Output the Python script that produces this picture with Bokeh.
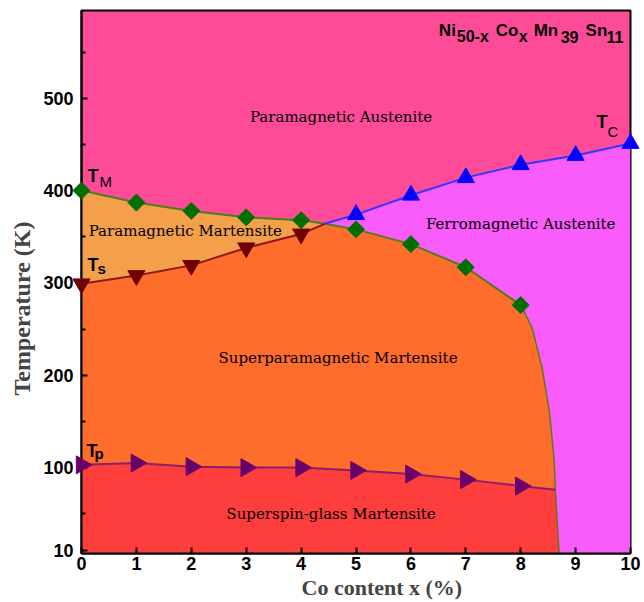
import numpy as np
from bokeh.plotting import figure
from bokeh.models import FixedTicker, Range1d, Title
from bokeh.embed import file_html
from bokeh.resources import INLINE
from bokeh.core.properties import value

# ---------------- data ----------------
co_M = [0, 1, 2, 3, 4, 5, 6, 7, 8]
T_M = [400, 387, 378, 371, 368, 358, 342, 317, 276]          # martensitic transition
co_C = [5, 6, 7, 8, 9, 10]
T_C = [374, 395, 414, 428, 438, 451]                          # Curie temperature
co_S = [0, 1, 2, 3, 4]
T_S = [299, 308, 319, 338, 353]                               # superparamagnetic transition
co_P = [0, 1, 2, 3, 4, 5, 6, 7, 8]
T_P = [103, 105, 101, 100, 100, 97, 93, 87, 80]               # spin-glass freezing
co_triple, T_triple = 4.43, 364                               # meeting point of T_M, T_S, T_C
co_B = [8.21, 8.39, 8.52, 8.61, 8.63, 8.70]                   # martensite / austenite boundary
T_B = [251, 208, 162, 108, 76, 7]
co_Pend, T_Pend = 8.63, 76

x_ticks = [0, 1, 2, 3, 4, 5, 6, 7, 8, 9, 10]
y_ticks = [10, 100, 200, 300, 400, 500]
y_minor = [50, 150, 250, 350, 450, 550]
X0, X1 = 0, 10
Y0, Y1 = 7, 595

PINK = "#FE4B98"
VIOLET = "#FA5CFC"
LORANGE = "#F4A04A"
ORANGE = "#FE6D2B"
RED = "#FE3D3D"

# frame geometry (page pixels) used only to place text annotations
FL, FR, FT, FB = 80, 630, 10, 553
def dx(px):
    return X0 + (px - FL) / (FR - FL) * (X1 - X0)
def dy(py):
    return Y0 + (FB - py) / (FB - FT) * (Y1 - Y0)

p = figure(width=640, height=602, x_range=Range1d(X0, X1), y_range=Range1d(Y0, Y1),
           output_backend="svg", toolbar_location=None,
           min_border_left=FL, min_border_right=640 - FR, min_border_top=FT, min_border_bottom=602 - FB,
           background_fill_color=PINK, border_fill_color="white")
p.grid.visible = False
p.outline_line_color = "black"
p.outline_line_width = 2

# ---------------- regions ----------------
vx = [co_triple] + co_C + [X1, co_triple]
vy = [T_triple] + T_C + [Y0, Y0]
p.patch(vx, vy, fill_color=VIOLET, line_color=None)

ox = co_S + [co_triple] + co_M[5:] + co_B + [X0]
oy = T_S + [T_triple] + T_M[5:] + T_B + [Y0]
p.patch(ox, oy, fill_color=ORANGE, line_color=None)

lx = co_M[:5] + [co_triple] + co_S[::-1]
ly = T_M[:5] + [T_triple] + T_S[::-1]
p.patch(lx, ly, fill_color=LORANGE, line_color=None)

rx = co_P + [co_Pend, co_B[-1], X0]
ry = T_P + [T_Pend, T_B[-1], Y0]
p.patch(rx, ry, fill_color=RED, line_color=None)

# ---------------- lines ----------------
p.line(co_M[:5] + [co_triple] + co_M[5:], T_M[:5] + [T_triple] + T_M[5:], line_color="#4A7F1C", line_width=2)
p.line([co_M[-1]] + co_B, [T_M[-1]] + T_B, line_color="#5A7A22", line_width=1.5)
p.line(co_S + [co_triple], T_S + [T_triple], line_color="#8E1818", line_width=2)
p.line([co_triple] + co_C, [T_triple] + T_C, line_color="#3535FF", line_width=2)
p.line(co_P + [co_Pend], T_P + [T_Pend], line_color="#8A1F6A", line_width=2)

# ---------------- markers (overlay level so edge markers are not cut) ----------------
p.scatter(co_M, T_M, marker="square", size=12, angle=np.pi / 4, fill_color="#006E00",
          line_color="#006E00", level="overlay")
p.scatter(co_C, T_C, marker="triangle", size=17, fill_color="#0000FF", line_color="#0000FF", level="overlay")
p.scatter(co_S, T_S, marker="inverted_triangle", size=17, fill_color="#6E0000", line_color="#6E0000",
          level="overlay")
p.scatter(co_P, T_P, marker="triangle", size=18, angle=-np.pi / 2, fill_color="#6A006A",
          line_color="#6A006A", level="overlay")

# ---------------- region labels ----------------
reg_text = ["Paramagnetic Austenite", "Paramagnetic Martensite", "Ferromagnetic Austenite",
            "Superparamagnetic Martensite", "Superspin-glass Martensite"]
reg_px = [340, 184, 520, 337, 330]
reg_py = [116, 230, 223, 357, 513]
p.text([dx(v) for v in reg_px], [dy(v) for v in reg_py], text=reg_text,
       text_font=value("DejaVu Serif"), text_font_size="15px", text_color="black",
       text_align="center", text_baseline="middle")

# ---------------- T labels ----------------
SHIFT = 7
big_t = ["T", "T", "T", "T"]
big_px = [86, 86, 85, 596]
big_py = [182, 271, 457, 128]
p.text([dx(v) for v in big_px], [dy(v - SHIFT) for v in big_py], text=big_t,
       text_font=value("Liberation Sans"), text_font_style="bold", text_font_size="18px",
       text_color="black", text_align="left", text_baseline="alphabetic")
sub_t = ["M", "s", "p", "C"]
sub_px = [98, 96, 93, 607]
sub_py = [188, 275, 460, 138]
sub_style = ["normal", "bold", "bold", "normal"]
p.text([dx(v) for v in sub_px], [dy(v - SHIFT) for v in sub_py], text=sub_t,
       text_font=value("Liberation Sans"), text_font_style=sub_style, text_font_size="15px",
       text_color="black", text_align="left", text_baseline="alphabetic")

# ---------------- composition title ----------------
f_main = ["Ni", "Co", "Mn", "Sn"]
f_main_px = [438, 495, 533, 585]
f_sub = ["50-x", "x", "39", "11"]
f_sub_px = [456, 518, 560, 606]
p.text([dx(v) for v in f_main_px], [dy(37 - SHIFT)] * 4, text=f_main,
       text_font=value("Liberation Sans"), text_font_style="bold", text_font_size="17px",
       text_color="black", text_align="left", text_baseline="alphabetic")
p.text([dx(v) for v in f_sub_px], [dy(43 - SHIFT)] * 4, text=f_sub,
       text_font=value("Liberation Sans"), text_font_style="bold", text_font_size="16px",
       text_color="black", text_align="left", text_baseline="alphabetic")

# ---------------- axes ----------------
for ax in (p.xaxis[0], p.yaxis[0]):
    ax.axis_line_color = "black"
    ax.axis_line_width = 2
    ax.major_tick_in = 6
    ax.major_tick_out = 0
    ax.minor_tick_in = 4
    ax.minor_tick_out = 0
    ax.major_tick_line_width = 2
    ax.minor_tick_line_width = 2
    ax.major_tick_line_color = "black"
    ax.minor_tick_line_color = "black"
    ax.major_label_text_font = "Liberation Sans"
    ax.major_label_text_font_style = "bold"
    ax.major_label_text_font_size = "18px"
    ax.major_label_text_color = "black"

p.xaxis.ticker = FixedTicker(ticks=x_ticks, minor_ticks=[])
p.yaxis.ticker = FixedTicker(ticks=y_ticks, minor_ticks=y_minor)
p.xaxis.major_label_standoff = 3
p.yaxis.major_label_standoff = 8

xt = Title(text="Co content x (%)", align="left", offset=220, standoff=0,
           text_font="Liberation Serif", text_font_style="bold", text_font_size="22px")
p.add_layout(xt, "below")
yt = Title(text="Temperature (K)", align="left", offset=158, standoff=12,
           text_font="Liberation Serif", text_font_style="bold", text_font_size="24px")
p.add_layout(yt, "left")

open("out.html", "w").write(file_html(p, INLINE))
